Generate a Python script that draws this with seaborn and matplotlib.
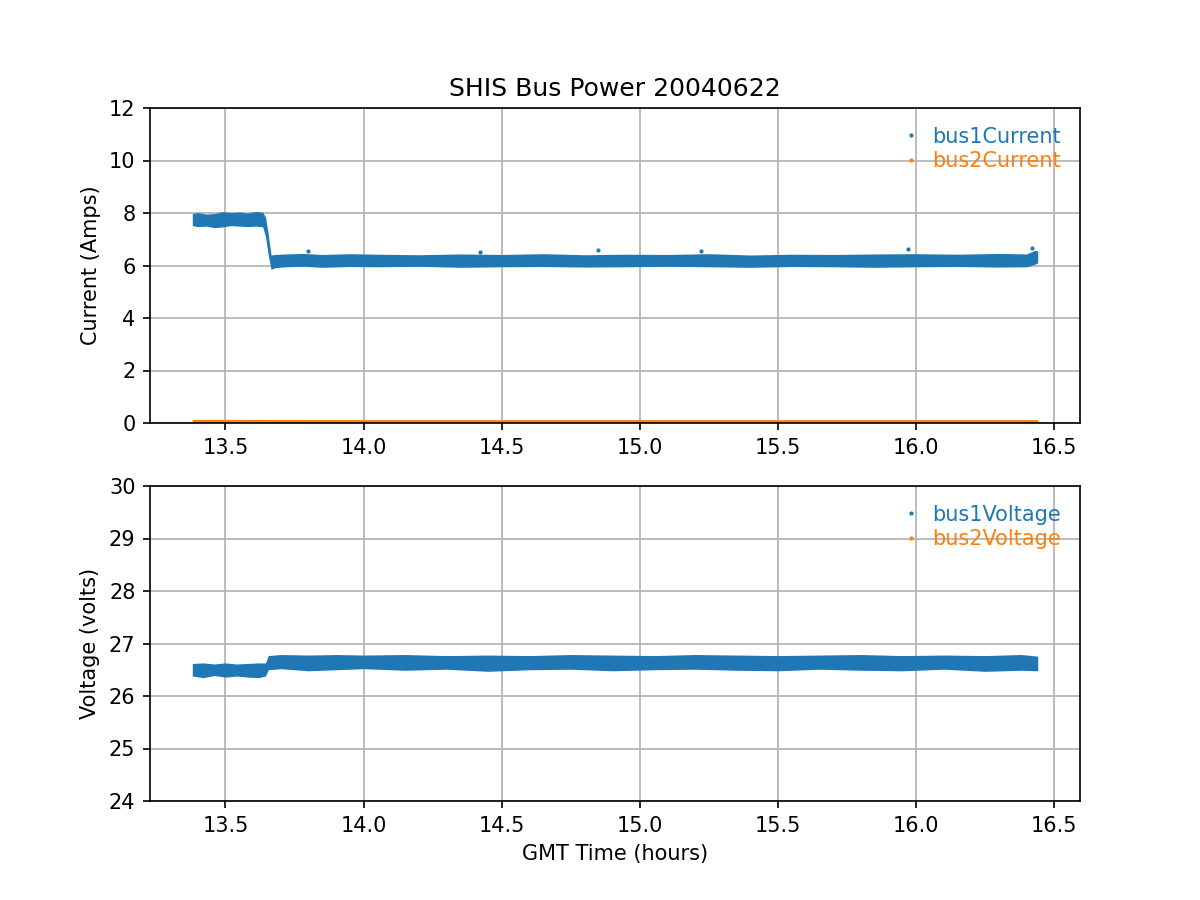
import numpy as np
import pandas as pd
import matplotlib
matplotlib.use('Agg')
import matplotlib.pyplot as plt
import seaborn as sns

# -------------------------------
# Data
# each series is drawn as its noisy envelope: low / high edge at each time
# -------------------------------
bus1_cur_time = [13.38, 13.40, 13.43, 13.46, 13.49, 13.52, 13.55, 13.58, 13.61, 13.635,
                 13.645, 13.655, 13.665, 13.68, 13.72, 13.78, 13.85, 13.95, 14.05, 14.2,
                 14.35, 14.5, 14.65, 14.8, 14.95, 15.1, 15.25, 15.4, 15.55, 15.7,
                 15.85, 16.0, 16.15, 16.3, 16.40, 16.43, 16.44]
bus1_cur_low = [7.52, 7.48, 7.50, 7.44, 7.47, 7.52, 7.50, 7.48, 7.50, 7.47,
                7.10, 6.40, 5.85, 5.92, 5.95, 5.97, 5.93, 5.96, 5.95, 5.97,
                5.93, 5.95, 5.96, 5.94, 5.95, 5.97, 5.95, 5.93, 5.96, 5.95,
                5.93, 5.95, 5.96, 5.94, 5.95, 6.05, 6.10]
bus1_cur_high = [7.98, 8.02, 7.96, 7.98, 8.05, 8.02, 8.04, 8.00, 8.06, 8.03,
                 7.85, 7.20, 6.40, 6.42, 6.44, 6.46, 6.42, 6.45, 6.43, 6.41,
                 6.44, 6.42, 6.45, 6.41, 6.43, 6.42, 6.45, 6.40, 6.43, 6.42,
                 6.44, 6.45, 6.43, 6.46, 6.44, 6.58, 6.55]
bus1_cur_spike_t = [13.80, 14.42, 14.85, 15.22, 15.97, 16.42]
bus1_cur_spike_v = [6.55, 6.52, 6.58, 6.54, 6.62, 6.65]

bus2_cur_time = [13.38, 14.0, 15.0, 16.0, 16.44]
bus2_cur_low = [0.02, 0.02, 0.02, 0.02, 0.02]
bus2_cur_high = [0.14, 0.13, 0.13, 0.13, 0.13]

bus1_volt_time = [13.38, 13.42, 13.46, 13.50, 13.54, 13.58, 13.62, 13.645, 13.655, 13.70,
                  13.80, 13.90, 14.0, 14.15, 14.3, 14.45, 14.6, 14.75, 14.9, 15.05,
                  15.2, 15.35, 15.5, 15.65, 15.8, 15.95, 16.1, 16.25, 16.38, 16.44]
bus1_volt_low = [26.38, 26.35, 26.39, 26.36, 26.38, 26.36, 26.35, 26.38, 26.50, 26.52,
                 26.48, 26.50, 26.52, 26.49, 26.51, 26.47, 26.50, 26.51, 26.48, 26.50,
                 26.51, 26.49, 26.48, 26.51, 26.49, 26.48, 26.51, 26.47, 26.49, 26.48]
bus1_volt_high = [26.62, 26.63, 26.61, 26.63, 26.61, 26.62, 26.63, 26.63, 26.77, 26.79,
                  26.78, 26.79, 26.78, 26.79, 26.77, 26.78, 26.77, 26.79, 26.78, 26.77,
                  26.79, 26.78, 26.77, 26.78, 26.79, 26.77, 26.78, 26.77, 26.79, 26.76]

# bus2 voltage sits below the plotted range (not visible)
bus2_volt_time = [13.38, 16.44]
bus2_volt_low = [0.0, 0.0]
bus2_volt_high = [0.05, 0.05]

BLUE = '#1f77b4'
ORANGE = '#ff7f0e'


def envelope_frame(t, low, high):
    return pd.DataFrame({'time': list(t) + list(t), 'value': list(low) + list(high)})


def draw_band(ax, t, low, high, color):
    df = envelope_frame(t, low, high)
    sns.lineplot(data=df, x='time', y='value', ax=ax, color=color,
                 estimator='mean', errorbar=('pi', 100),
                 err_kws={'alpha': 1, 'linewidth': 0, 'facecolor': color, 'zorder': 2},
                 linewidth=0, legend=False)


fig, (ax1, ax2) = plt.subplots(2, 1, figsize=(8, 6), dpi=150)

# -------------------------------
# Current panel
# -------------------------------
draw_band(ax1, bus1_cur_time, bus1_cur_low, bus1_cur_high, BLUE)
sns.scatterplot(x=bus1_cur_spike_t, y=bus1_cur_spike_v, ax=ax1, color=BLUE,
                s=4, linewidth=0, legend=False, zorder=2)
draw_band(ax1, bus2_cur_time, bus2_cur_low, bus2_cur_high, ORANGE)
ax1.plot([], [], '.', ms=2, color=BLUE, label='bus1Current')
ax1.plot([], [], '.', ms=2, color=ORANGE, label='bus2Current')
ax1.set_ylim(0, 12)
ax1.set_xlabel('')
ax1.set_ylabel('Current (Amps)')
ax1.set_title('SHIS Bus Power 20040622')

# -------------------------------
# Voltage panel
# -------------------------------
draw_band(ax2, bus1_volt_time, bus1_volt_low, bus1_volt_high, BLUE)
draw_band(ax2, bus2_volt_time, bus2_volt_low, bus2_volt_high, ORANGE)
ax2.plot([], [], '.', ms=2, color=BLUE, label='bus1Voltage')
ax2.plot([], [], '.', ms=2, color=ORANGE, label='bus2Voltage')
ax2.set_ylim(24, 30)
ax2.set_xlabel('GMT Time (hours)')
ax2.set_ylabel('Voltage (volts)')

for ax in (ax1, ax2):
    ax.grid(True)
    ax.set_axisbelow(True)
    ax.set_xlim(13.227, 16.593)
    ax.set_xticks([13.5, 14.0, 14.5, 15.0, 15.5, 16.0, 16.5])
    ax.legend(loc='upper right', frameon=False, labelcolor='markerfacecolor',
              labelspacing=0.2, handlelength=0.5)

plt.savefig('out.png')
